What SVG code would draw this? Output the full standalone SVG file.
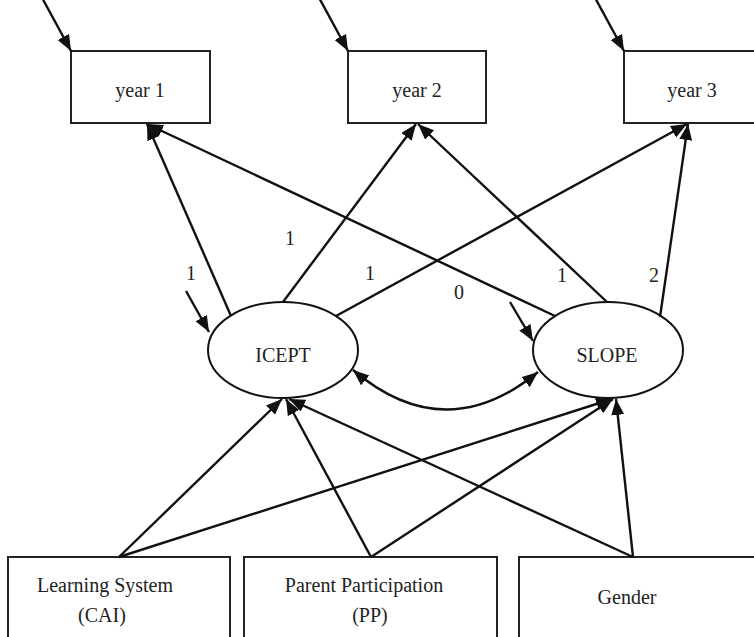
<svg xmlns="http://www.w3.org/2000/svg" width="754" height="637" viewBox="0 0 754 637">
  <style>
    .box { fill: #fff; stroke: #222; stroke-width: 2; }
    .ell { fill: #fff; stroke: #111; stroke-width: 2; }
    .lbl { font-family: 'Liberation Serif', serif; font-size: 20px; fill: #222; text-anchor: middle; }
    .edge { fill: none; stroke: #111; stroke-width: 2.4; marker-end: url(#head); }
    .both { fill: none; stroke: #111; stroke-width: 2.4; marker-start: url(#head); marker-end: url(#head); }
  </style>
  <defs>
    <marker id="head" markerUnits="userSpaceOnUse" markerWidth="18" markerHeight="14" refX="16" refY="6.5" orient="auto-start-reverse">
      <path d="M0,0 L16,6.5 L0,13 Z" fill="#111"/>
    </marker>
  </defs>
  <rect width="754" height="637" fill="#fff"/>

  <!-- observed outcomes -->
  <g id="year1"><rect class="box" x="71" y="51" width="139" height="72"/><text class="lbl" x="140" y="97">year 1</text></g>
  <g id="year2"><rect class="box" x="348" y="51" width="138" height="72"/><text class="lbl" x="417" y="97">year 2</text></g>
  <g id="year3"><rect class="box" x="624" y="51" width="138" height="72"/><text class="lbl" x="692" y="97">year 3</text></g>

  <!-- latent growth factors -->
  <g id="icept"><ellipse class="ell" cx="283" cy="350" rx="75" ry="48"/><text class="lbl" x="283" y="362">ICEPT</text></g>
  <g id="slope"><ellipse class="ell" cx="608" cy="350" rx="75" ry="48"/><text class="lbl" x="607" y="362">SLOPE</text></g>

  <!-- covariates -->
  <g id="cai"><rect class="box" x="8" y="557" width="222" height="90"/><text class="lbl" x="105" y="592">Learning System</text><text class="lbl" x="102" y="622">(CAI)</text></g>
  <g id="pp"><rect class="box" x="244" y="557" width="253" height="90"/><text class="lbl" x="364" y="592">Parent Participation</text><text class="lbl" x="370" y="622">(PP)</text></g>
  <g id="gender"><rect class="box" x="519" y="557" width="245" height="90"/><text class="lbl" x="627" y="604">Gender</text></g>

  <g id="connectors">
    <!-- residual arrows -->
    <line class="edge" x1="40" y1="-6" x2="71" y2="51"/>
    <line class="edge" x1="317" y1="-6" x2="348" y2="51"/>
    <line class="edge" x1="593" y1="-6" x2="624" y2="51"/>
    <line class="edge" x1="186" y1="291" x2="209" y2="332"/>
    <line class="edge" x1="510" y1="302" x2="533" y2="341"/>

    <!-- loadings -->
    <line class="edge" x1="231" y1="316" x2="147" y2="124"/>
    <line class="edge" x1="555" y1="316" x2="147" y2="124"/>
    <line class="edge" x1="283" y1="302" x2="416" y2="124"/>
    <line class="edge" x1="607" y1="302" x2="418" y2="124"/>
    <line class="edge" x1="336" y1="316" x2="687" y2="124"/>
    <line class="edge" x1="660" y1="317" x2="688" y2="124"/>

    <!-- covariance -->
    <path class="both" d="M353,370 Q445,448 538,372"/>

    <!-- covariate effects -->
    <line class="edge" x1="119" y1="557" x2="282" y2="399"/>
    <line class="edge" x1="119" y1="557" x2="612" y2="399"/>
    <line class="edge" x1="371" y1="557" x2="286" y2="399"/>
    <line class="edge" x1="371" y1="557" x2="613" y2="399"/>
    <line class="edge" x1="633" y1="557" x2="289" y2="399"/>
    <line class="edge" x1="633" y1="557" x2="616" y2="399"/>
  </g>

  <!-- loading values -->
  <text class="lbl" x="191" y="280">1</text>
  <text class="lbl" x="290" y="245">1</text>
  <text class="lbl" x="370" y="280">1</text>
  <text class="lbl" x="459" y="299">0</text>
  <text class="lbl" x="562" y="282">1</text>
  <text class="lbl" x="654" y="282">2</text>
</svg>
